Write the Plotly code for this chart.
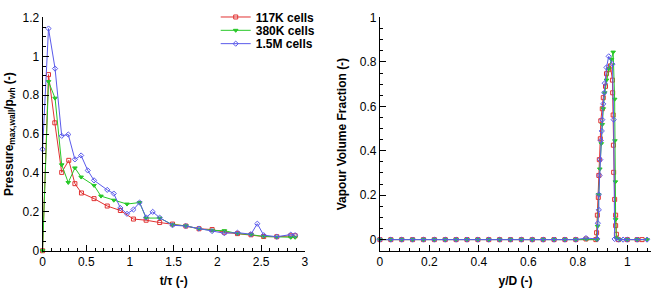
import plotly.graph_objects as go

# ---------- left panel: max wall pressure vs time ----------
t_117k = [0.0, 0.068, 0.14, 0.219, 0.30, 0.37, 0.445, 0.589, 0.74, 0.89, 1.04, 1.185, 1.34, 1.487, 1.64,
          1.79, 1.94, 2.08, 2.23, 2.385, 2.53, 2.68, 2.84, 2.89]
p_117k = [0.0, 0.906, 0.658, 0.403, 0.465, 0.345, 0.297, 0.268, 0.23, 0.207, 0.163, 0.157, 0.145, 0.137, 0.127,
          0.113, 0.109, 0.095, 0.088, 0.082, 0.073, 0.072, 0.077, 0.077]

t_380k = [0.0, 0.068, 0.143, 0.219, 0.294, 0.37, 0.441, 0.589, 0.668, 0.815, 0.966, 1.11, 1.185, 1.34, 1.487,
          1.64, 1.79, 1.94, 2.08, 2.23, 2.385, 2.53, 2.68, 2.84, 2.89]
p_380k = [0.0, 0.87, 0.785, 0.442, 0.351, 0.426, 0.379, 0.336, 0.281, 0.26, 0.24, 0.248, 0.168, 0.168, 0.134,
          0.128, 0.112, 0.105, 0.103, 0.088, 0.083, 0.073, 0.070, 0.069, 0.069]

t_15m = [0.0, 0.068, 0.143, 0.219, 0.294, 0.37, 0.441, 0.517, 0.589, 0.74, 0.815, 0.89, 0.966, 1.04, 1.11,
         1.185, 1.26, 1.34, 1.487, 1.64, 1.79, 1.94, 2.08, 2.23, 2.385, 2.457, 2.53, 2.68, 2.84, 2.89]
p_15m = [0.522, 1.143, 0.937, 0.591, 0.598, 0.47, 0.49, 0.413, 0.362, 0.313, 0.294, 0.22, 0.19, 0.212, 0.248,
         0.171, 0.2, 0.17, 0.131, 0.127, 0.114, 0.101, 0.09, 0.093, 0.085, 0.139, 0.08, 0.072, 0.083, 0.08]

# ---------- right panel: vapour volume fraction profile ----------
base_y = [0.0, 0.044, 0.088, 0.132, 0.176, 0.22, 0.264, 0.308, 0.352, 0.396, 0.44, 0.484, 0.528, 0.572,
          0.616, 0.66, 0.704, 0.748, 0.792]
base_a = [0.0] * len(base_y)

y_117k = base_y + [0.833, 0.873, 0.876, 0.879, 0.883, 0.885, 0.887, 0.891, 0.893, 0.899, 0.903, 0.912, 0.916,
                   0.925, 0.932, 0.94, 0.941, 0.943, 0.944, 0.945, 0.949, 0.953, 0.953, 0.956, 0.964,
                   1.0, 1.04, 1.06]
a_117k = base_a + [0.003, 0.0, 0.031, 0.11, 0.19, 0.289, 0.36, 0.454, 0.535, 0.589, 0.639, 0.69, 0.747,
                   0.765, 0.782, 0.718, 0.661, 0.561, 0.425, 0.303, 0.181, 0.11, 0.063, 0.024, 0.0,
                   0.0, 0.0, 0.0]

y_380k = base_y + [0.835, 0.876, 0.88, 0.884, 0.889, 0.895, 0.899, 0.903, 0.909, 0.916, 0.925, 0.936, 0.943,
                   0.949, 0.95, 0.952, 0.953, 0.956, 0.97, 1.0, 1.04, 1.08]
a_380k = base_a + [0.002, 0.0, 0.06, 0.203, 0.318, 0.432, 0.518, 0.589, 0.661, 0.718, 0.768, 0.811, 0.844,
                   0.632, 0.445, 0.26, 0.09, 0.007, 0.0, 0.0, 0.0, 0.0]

y_15m = base_y + [0.833, 0.879, 0.881, 0.885, 0.885, 0.888, 0.891, 0.893, 0.897, 0.899, 0.903, 0.907, 0.909,
                  0.916, 0.925, 0.94, 0.945, 0.949, 0.965, 0.983, 1.0, 1.04, 1.08]
a_15m = base_a + [0.007, 0.003, 0.074, 0.134, 0.203, 0.289, 0.36, 0.446, 0.489, 0.54, 0.611, 0.661, 0.704,
                  0.775, 0.825, 0.79, 0.54, 0.003, 0.0, 0.0, 0.0, 0.0, 0.0]

names = ["117K cells", "380K cells", "1.5M cells"]
colors = ["rgb(225,50,50)", "rgb(40,200,40)", "rgb(90,90,235)"]
symbols = ["square-open", "triangle-down", "diamond-open"]
legend_ids = ["legend", "legend2", "legend3"]

fig = go.Figure()

left_data = [(t_117k, p_117k), (t_380k, p_380k), (t_15m, p_15m)]
right_data = [(y_117k, a_117k), (y_380k, a_380k), (y_15m, a_15m)]

for i in range(3):
    fig.add_trace(go.Scatter(
        x=left_data[i][0], y=left_data[i][1], mode="lines+markers", name=names[i],
        line=dict(color=colors[i], width=1),
        marker=dict(symbol=symbols[i], size=4, color=colors[i], line=dict(width=1, color=colors[i])),
        xaxis="x", yaxis="y", showlegend=True, legend=legend_ids[i], cliponaxis=False))
for i in range(3):
    fig.add_trace(go.Scatter(
        x=right_data[i][0], y=right_data[i][1], mode="lines+markers", name=names[i],
        line=dict(color=colors[i], width=1),
        marker=dict(symbol=symbols[i], size=4, color=colors[i], line=dict(width=1, color=colors[i])),
        xaxis="x2", yaxis="y2", showlegend=False, cliponaxis=False))

W, H = 656, 292
FAM = "Liberation Sans, Arial, sans-serif"
tickfont = dict(family=FAM, size=12, color="black")
titlefont = dict(family=FAM, size=12, color="black", weight="bold")

common = dict(showline=True, linecolor="black", linewidth=1, ticks="inside", ticklen=6, tickcolor="black",
              showgrid=False, zeroline=False, tickfont=tickfont, mirror=False)

legend_rows = [10.5, 24.5, 38.5]
legend_style = dict(font=dict(family=FAM, size=12, color="black", weight="bold"),
                    bgcolor="rgba(0,0,0,0)", xanchor="left", yanchor="middle")
legends = {}
for i, lid in enumerate(legend_ids):
    legends[lid] = dict(x=215 / W, y=1 - legend_rows[i] / H, **legend_style)

fig.update_layout(
    width=W, height=H,
    margin=dict(l=0, r=0, t=0, b=0),
    paper_bgcolor="white", plot_bgcolor="white",
    font=dict(family=FAM, color="black"),
    xaxis=dict(domain=[40 / W, 305 / W], range=[0, 3], dtick=0.5, anchor="y",
               minor=dict(dtick=0.1, ticks="inside", ticklen=3, tickcolor="black"),
               title=dict(text="t/τ (-)", font=titlefont, standoff=8), **common),
    yaxis=dict(domain=[(H - 256) / H, (H - 11) / H], range=[0, 1.2], dtick=0.2, anchor="x",
               minor=dict(dtick=0.05, ticks="inside", ticklen=3, tickcolor="black"),
               title=dict(text="Pressure<sub>max,wall</sub>/p<sub>wh</sub> (-)", font=titlefont, standoff=6),
               **common),
    xaxis2=dict(domain=[381 / W, 655 / W], range=[0, 1.096], dtick=0.2, anchor="y2",
                minor=dict(dtick=0.04, ticks="inside", ticklen=3, tickcolor="black"),
                title=dict(text="y/D (-)", font=titlefont, standoff=8), **common),
    yaxis2=dict(domain=[(H - 256) / H, (H - 11) / H], range=[-0.05, 1], dtick=0.2, anchor="x2",
                minor=dict(dtick=0.05, ticks="inside", ticklen=3, tickcolor="black"),
                title=dict(text="Vapour Volume Fraction (-)", font=titlefont, standoff=10),
                **common),
    **legends,
)

fig.write_html("out.html")
